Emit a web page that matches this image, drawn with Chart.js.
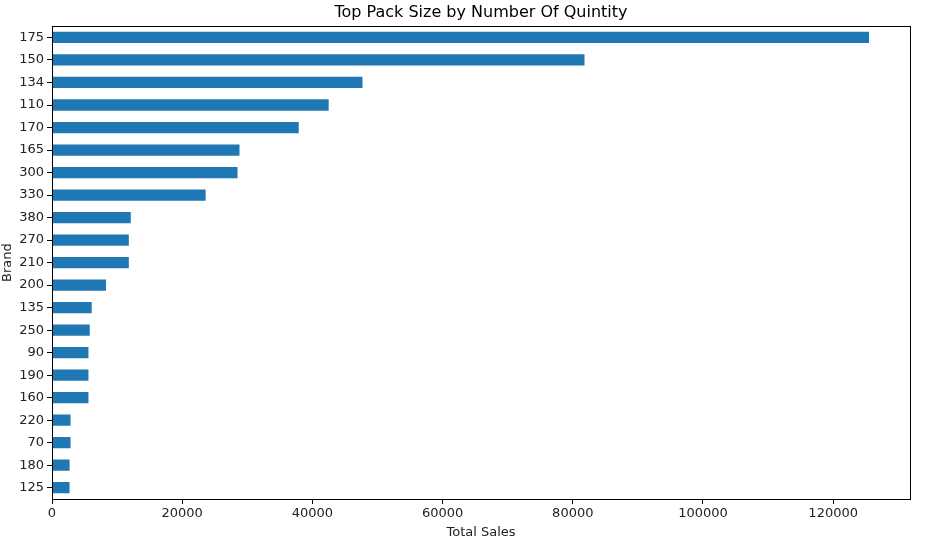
<!DOCTYPE html>
<html>
<head>
<meta charset="utf-8">
<title>Top Pack Size by Number Of Quintity</title>
<script src="https://cdn.jsdelivr.net/npm/chart.js@4/dist/chart.umd.min.js"></script>
<style>
  html, body { margin: 0; padding: 0; background: #fff; }
  canvas { display: block; }
</style>
</head>
<body>
<canvas id="packChart" width="930" height="538"></canvas>
<script>
// Pack sizes, sorted by total sales (largest first)
const packSizes = ['175', '150', '134', '110', '170', '165', '300', '330', '380', '270',
  '210', '200', '135', '250', '90', '190', '160', '220', '70', '180', '125'];

// Total sales
const totalSales = [125500, 81800, 47700, 42500, 37900, 28800, 28500, 23600, 12100, 11800,
  11800, 8300, 6100, 5800, 5600, 5600, 5600, 2850, 2850, 2700, 2700];

// x ticks
const xTicks = [0, 20000, 40000, 60000, 80000, 100000, 120000];
const xMax = 131800;

Chart.defaults.font.family = '"DejaVu Sans", sans-serif';
Chart.defaults.color = '#222';

// Rahmen um den Plotbereich (wie matplotlib)
const frame = {
  id: 'frame',
  afterDraw(chart) {
    const { ctx, chartArea: a } = chart;
    ctx.save();
    ctx.strokeStyle = '#000';
    ctx.lineWidth = 1;
    ctx.strokeRect(Math.round(a.left) + 0.5, Math.round(a.top) + 0.5,
      Math.round(a.right - a.left), Math.round(a.bottom - a.top));
    ctx.restore();
  }
};

new Chart(document.getElementById('packChart'), {
  type: 'bar',
  data: {
    labels: packSizes,
    datasets: [{
      label: 'Total Sales',
      data: totalSales,
      backgroundColor: '#1f77b4',
      barPercentage: 0.5,
      categoryPercentage: 1.0
    }]
  },
  options: {
    indexAxis: 'y',
    responsive: false,
    animation: false,
    devicePixelRatio: 1,
    layout: { padding: { left: 0, right: 20, top: 0, bottom: 0 } },
    plugins: {
      legend: { display: false },
      tooltip: { enabled: false },
      title: {
        display: true,
        text: 'Top Pack Size by Number Of Quintity',
        fullSize: false,
        font: { size: 16, weight: 'normal' },
        color: '#000',
        padding: { top: 3, bottom: 4 }
      }
    },
    scales: {
      x: {
        type: 'linear',
        min: 0,
        max: xMax,
        border: { display: false },
        grid: { drawOnChartArea: false, drawTicks: true, tickLength: 5, color: '#000' },
        ticks: {
          stepSize: 20000, padding: 2, font: { size: 13 }, maxRotation: 0,
          callback: (v) => String(v)
        },
        afterBuildTicks: (scale) => {
          scale.ticks = xTicks.map(v => ({ value: v }));
        },
        afterFit: (scale) => { scale.height = 39; },
        title: { display: true, text: 'Total Sales', font: { size: 13 }, padding: { top: 0, bottom: -2 } }
      },
      y: {
        offset: true,
        border: { display: false },
        grid: { offset: false, drawOnChartArea: false, drawTicks: true, tickLength: 5, color: '#000' },
        ticks: { padding: 3, font: { size: 13 }, autoSkip: false },
        afterFit: (scale) => { scale.width = 52; },
        title: { display: true, text: 'Brand', font: { size: 13 }, padding: 0 }
      }
    }
  },
  plugins: [frame]
});
</script>
</body>
</html>
